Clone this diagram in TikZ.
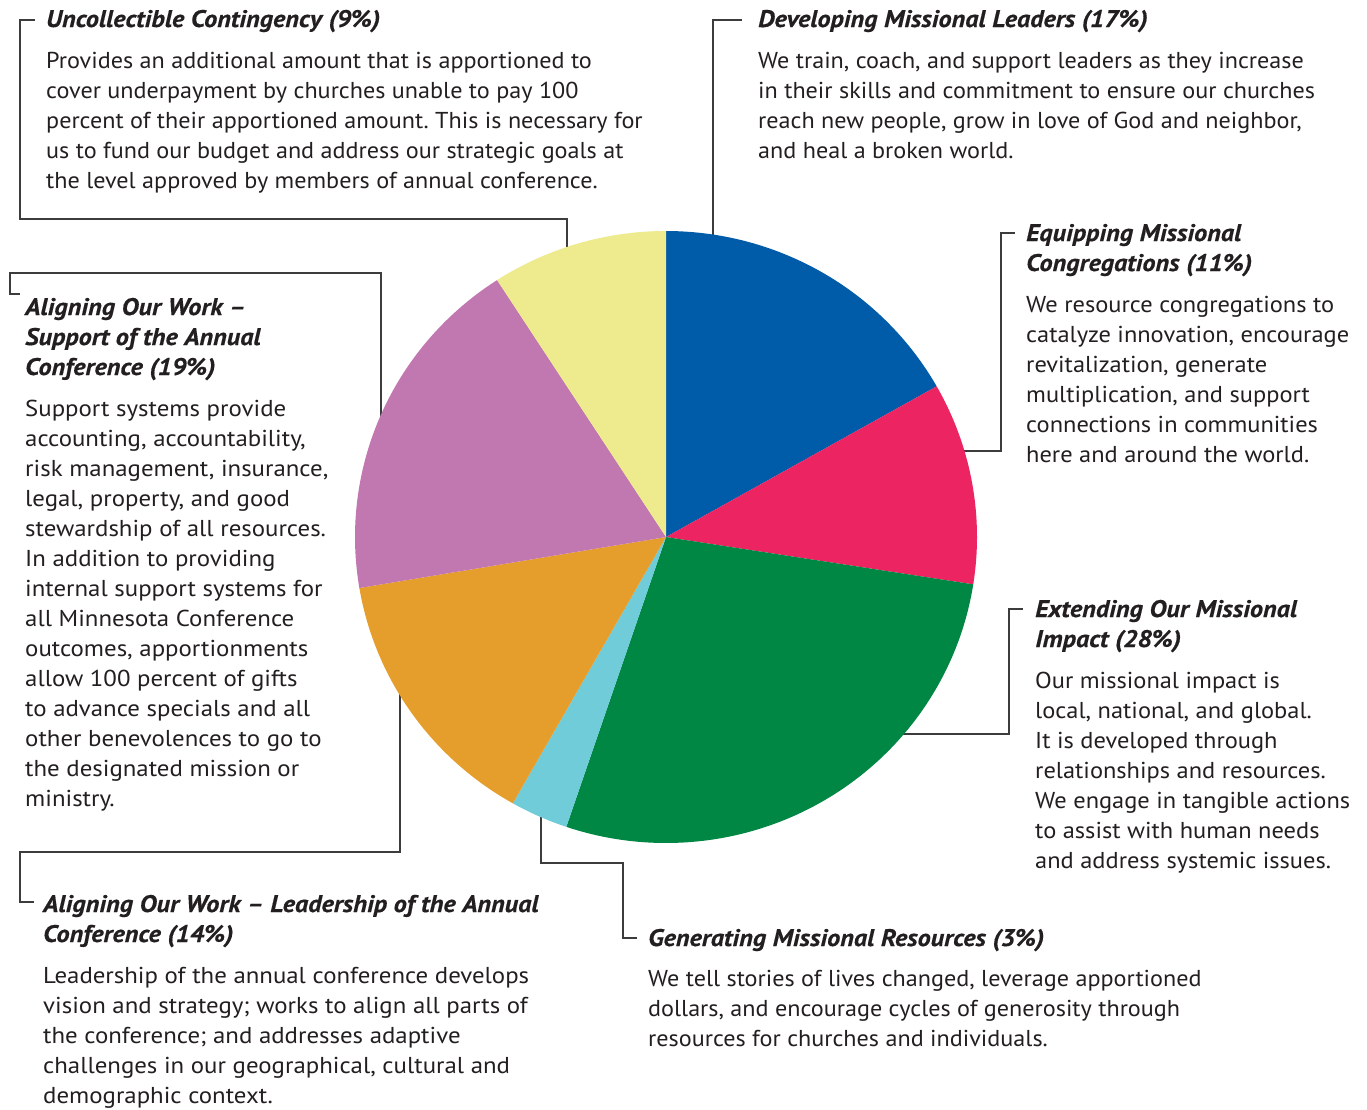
\documentclass[tikz,border=0pt]{standalone}
\usepackage{fontspec}
\setmainfont{PT Sans}
\newfontfamily\bfA[FakeStretch=1.05]{PT Sans}
\newfontfamily\bfB[FakeStretch=1.062]{PT Sans}
\newfontfamily\bfC[FakeStretch=1.08]{PT Sans}
\newfontfamily\ttlf[FakeStretch=1.095, FakeBold=0.4]{PT Sans}
\definecolor{txt}{HTML}{231F20}
\definecolor{lgray}{HTML}{3C3C3C}
\definecolor{cblue}{HTML}{005BA8}
\definecolor{cred}{HTML}{EC2461}
\definecolor{cgreen}{HTML}{008744}
\definecolor{ccyan}{HTML}{71CCDA}
\definecolor{corange}{HTML}{E59E2C}
\definecolor{cpurple}{HTML}{C177B0}
\definecolor{cyellow}{HTML}{EDEB8D}
\newcommand{\blk}[1]{\parbox[t]{800pt}{\raggedright #1}}
\frenchspacing
\tikzset{
  body/.style={anchor=base west, inner sep=0pt, text=txt, font={#1\fontsize{23}{30}\selectfont\frenchspacing}},
  body/.default=\bfA,
  ttl/.style={anchor=base west, inner sep=0pt, text=txt, font={\ttlf\fontsize{24}{30}\selectfont\bfseries\itshape}},
  conn/.style={draw=lgray, line width=1.5pt, line cap=rect},
}
\begin{document}
\begin{tikzpicture}[x=1pt, y=-1pt]
\useasboundingbox (0,0) rectangle (1367,1109);
\fill[white] (0,0) rectangle (1367,1109);

% ---------- texts ----------
\node[ttl] (t1) at (46,27) {Uncollectible Contingency (9\%)};
\node[body] (b1) at (46,68) {\blk{Provides an additional amount that is apportioned to\\
cover underpayment by churches unable to pay 100\\
percent of their apportioned amount. This is necessary for\\
us to fund our budget and address our strategic goals at\\
the level approved by members of annual conference.}};

\node[ttl] (t2) at (758,27) {Developing Missional Leaders (17\%)};
\node[body] (b2) at (758,68) {\blk{We train, coach, and support leaders as they increase\\
in their skills and commitment to ensure our churches\\
reach new people, grow in love of God and neighbor,\\
and heal a broken world.}};

\node[ttl] (t3) at (1026,241) {\blk{Equipping Missional\\Congregations (11\%)}};
\node[body=\bfB] (b3) at (1026,312) {\blk{We resource congregations to\\
catalyze innovation, encourage\\
revitalization, generate\\
multiplication, and support\\
connections in communities\\
here and around the world.}};

\node[ttl] (t4) at (1035,617) {\blk{Extending Our Missional\\Impact (28\%)}};
\node[body=\bfB] (b4) at (1035,688) {\blk{Our missional impact is\\
local, national, and global.\\
It is developed through\\
relationships and resources.\\
We engage in tangible actions\\
to assist with human needs\\
and address systemic issues.}};

\node[ttl] (t5) at (648,946) {Generating Missional Resources (3\%)};
\node[body] (b5) at (648,986) {\blk{We tell stories of lives changed, leverage apportioned\\
dollars, and encourage cycles of generosity through\\
resources for churches and individuals.}};

\node[ttl] (t6) at (43,912) {\blk{Aligning Our Work – Leadership of the Annual\\Conference (14\%)}};
\node[body=\bfC] (b6) at (43,983) {\blk{Leadership of the annual conference develops\\
vision and strategy; works to align all parts of\\
the conference; and addresses adaptive\\
challenges in our geographical, cultural and\\
demographic context.}};

\node[ttl] (t7) at (25,315) {\blk{Aligning Our Work –\\Support of the Annual\\Conference (19\%)}};
\node[body=\bfC] (b7) at (25,416) {\blk{Support systems provide\\
accounting, accountability,\\
risk management, insurance,\\
legal, property, and good\\
stewardship of all resources.\\
In addition to providing\\
internal support systems for\\
all Minnesota Conference\\
outcomes, apportionments\\
allow 100 percent of gifts\\
to advance specials and all\\
other benevolences to go to\\
the designated mission or\\
ministry.}};

% ---------- connector end points ----------
\coordinate (s1) at (34,20);   \coordinate (e1) at (567,262);
\coordinate (s2) at (741,20);  \coordinate (e2) at (713,252);
\coordinate (s3) at (1014,233); \coordinate (e3) at (948,451);
\coordinate (s4) at (1022,609); \coordinate (e4) at (888,734);
\coordinate (s5) at (636,938); \coordinate (e5) at (541,803);
\coordinate (s6) at (33,902);  \coordinate (e6) at (400,683);
\coordinate (s7) at (19,294);  \coordinate (e7) at (381,428);

\draw[conn] (s1) -- (20,20) -- (20,219) -- (567,219) -- (e1);
\draw[conn] (s2) -- (713,20) -- (e2);
\draw[conn] (s3) -- (1001,233) -- (1001,451) -- (e3);
\draw[conn] (s4) -- (1009,609) -- (1009,734) -- (e4);
\draw[conn] (s5) -- (623,938) -- (623,863) -- (541,863) -- (e5);
\draw[conn] (s6) -- (20,902) -- (20,852) -- (400,852) -- (e6);
\draw[conn] (s7) -- (10,294) -- (10,273) -- (381,273) -- (e7);

% ---------- pie ----------
\coordinate (c) at (666,537);
\def\slice#1#2#3{\fill[#1] (c) -- plot[domain=#2:#3, samples=90] ({666+311*cos(\x)},{537-306*sin(\x)}) -- cycle;}
\slice{cblue}{29.5}{90}
\slice{cred}{-8.9}{29.5}
\slice{cgreen}{-108.7}{-8.9}
\slice{ccyan}{-119.5}{-108.7}
\slice{corange}{-170.4}{-119.5}
\slice{cpurple}{-237.1}{-170.4}
\slice{cyellow}{90}{122.9}
\end{tikzpicture}
\end{document}
